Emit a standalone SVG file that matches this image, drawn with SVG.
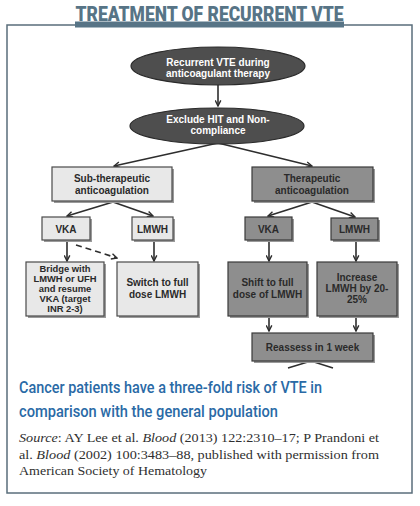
<svg xmlns="http://www.w3.org/2000/svg" width="420" height="506" viewBox="0 0 420 506">
<defs>
<style>
.t{font-family:"Liberation Sans",Arial,sans-serif;font-weight:bold;font-size:10px;text-anchor:middle;fill:#2a2a2a}
.s{font-size:9.4px}
.w{fill:#ffffff}
.ell{fill:#4e4e4e;stroke:#2a2a2a;stroke-width:1.2}
.lb{fill:#e8e8e8;stroke:#4a4a4a;stroke-width:1.2}
.db{fill:#8e8e8e;stroke:#3a3a3a;stroke-width:1.2}
.sh{fill:#9a9a9a}
.c{fill:none;stroke:#2e2e2e;stroke-width:1.6;marker-end:url(#ah)}
.src{font-family:"Liberation Serif","Times New Roman",serif;font-size:13.4px;fill:#2f2f2f}
.hd{font-family:Roboto,"Liberation Sans",sans-serif;font-weight:500;font-size:16.5px;fill:#2a6aa6}
</style>
<marker id="ah" viewBox="0 0 10 10" refX="9" refY="5" markerWidth="7" markerHeight="7" markerUnits="userSpaceOnUse" orient="auto">
<path d="M1,1 L9,5 L1,9" fill="none" stroke="#2e2e2e" stroke-width="2"/>
</marker>
</defs>
<rect x="0" y="0" width="420" height="506" fill="#ffffff"/>
<rect x="7" y="25" width="405" height="468" fill="#ffffff" stroke="#5a6e7b" stroke-width="1.5"/>
<rect x="75" y="21.5" width="269" height="6" fill="#577486"/>
<text x="209.5" y="20.5" font-family="Roboto,'Liberation Sans',sans-serif" font-weight="900" font-size="21" fill="#577486" text-anchor="middle" textLength="268" lengthAdjust="spacingAndGlyphs">TREATMENT OF RECURRENT VTE</text>

<g id="connectors">
<path class="c" d="M218,85 V106"/>
<path class="c" d="M218,143 L114,166"/>
<path class="c" d="M218,143 L312,166"/>
<path class="c" d="M113,202 L67,216"/>
<path class="c" d="M113,202 L153,216"/>
<path class="c" d="M312,202 L268,216"/>
<path class="c" d="M312,202 L355,217"/>
<path class="c" d="M67,241 V261"/>
<path class="c" d="M154,241 V261"/>
<path class="c" d="M76,245 L117,258" stroke-dasharray="6,4"/>
<path class="c" d="M269,241 V261"/>
<path class="c" d="M356,241 V261"/>
<path class="c" d="M269,317 V331"/>
<path class="c" d="M356,317 V331"/>
<path d="M288,368 L311,361 L333,368" fill="none" stroke="#2e2e2e" stroke-width="1.6"/>
</g>

<g id="n-recurrent">
<ellipse class="ell" cx="218" cy="66" rx="87" ry="19"/>
<text class="t w" x="218" y="65.5">Recurrent VTE during</text>
<text class="t w" x="218" y="76.5">anticoagulant therapy</text>
</g>
<g id="n-exclude">
<ellipse class="ell" cx="217" cy="126" rx="87" ry="18"/>
<text class="t w" x="218" y="122.5">Exclude HIT and Non-</text>
<text class="t w" x="218" y="133.5">compliance</text>
</g>

<g id="n-sub">
<rect class="sh" x="54" y="169" width="120" height="34"/>
<rect class="lb" x="52" y="167" width="120" height="34"/>
<text class="t" x="112" y="182">Sub-therapeutic</text>
<text class="t" x="112" y="194">anticoagulation</text>
</g>
<g id="n-ther">
<rect class="sh" x="254" y="169" width="121" height="34"/>
<rect class="db" x="252" y="167" width="121" height="34"/>
<text class="t" x="312" y="182">Therapeutic</text>
<text class="t" x="312" y="194">anticoagulation</text>
</g>

<g id="n-vka1">
<rect class="sh" x="44" y="219" width="48" height="23"/>
<rect class="lb" x="42" y="217" width="48" height="23"/>
<text class="t" x="66" y="232.5">VKA</text>
</g>
<g id="n-lmwh1">
<rect class="sh" x="134" y="219" width="41" height="23"/>
<rect class="lb" x="132" y="217" width="41" height="23"/>
<text class="t" x="152.5" y="232.5">LMWH</text>
</g>
<g id="n-vka2">
<rect class="sh" x="247" y="219" width="47" height="23"/>
<rect class="db" x="245" y="217" width="47" height="23"/>
<text class="t" x="268.5" y="232.5">VKA</text>
</g>
<g id="n-lmwh2">
<rect class="sh" x="333" y="220" width="47" height="22"/>
<rect class="db" x="331" y="218" width="47" height="22"/>
<text class="t" x="354.5" y="232.5">LMWH</text>
</g>

<g id="n-bridge">
<rect class="sh" x="28" y="264" width="78" height="54"/>
<rect class="lb" x="26" y="262" width="78" height="54"/>
<text class="t s" x="65" y="271.5">Bridge with</text>
<text class="t s" x="65" y="281.5">LMWH or UFH</text>
<text class="t s" x="65" y="291.5">and resume</text>
<text class="t s" x="65" y="301.5">VKA (target</text>
<text class="t s" x="65" y="311.5">INR 2-3)</text>
</g>
<g id="n-switch">
<rect class="sh" x="119" y="264" width="81" height="54"/>
<rect class="lb" x="117" y="262" width="81" height="54"/>
<text class="t" x="157.5" y="286">Switch to full</text>
<text class="t" x="157.5" y="297.5">dose LMWH</text>
</g>
<g id="n-shift">
<rect class="sh" x="230" y="264" width="79" height="54"/>
<rect class="db" x="228" y="262" width="79" height="54"/>
<text class="t" x="267.5" y="286">Shift to full</text>
<text class="t" x="267.5" y="297.5">dose of LMWH</text>
</g>
<g id="n-increase">
<rect class="sh" x="319" y="264" width="80" height="54"/>
<rect class="db" x="317" y="262" width="80" height="54"/>
<text class="t" x="357" y="281">Increase</text>
<text class="t" x="357" y="292">LMWH by 20-</text>
<text class="t" x="357" y="303">25%</text>
</g>
<g id="n-reassess">
<rect class="sh" x="254" y="335" width="121" height="28"/>
<rect class="db" x="252" y="333" width="121" height="28"/>
<text class="t" x="312.5" y="350.5">Reassess in 1 week</text>
</g>

<text class="hd" x="19" y="393" textLength="303" lengthAdjust="spacingAndGlyphs">Cancer patients have a three-fold risk of VTE in</text>
<text class="hd" x="19" y="417" textLength="259" lengthAdjust="spacingAndGlyphs">comparison with the general population</text>
<text class="src" x="19" y="442" textLength="360" lengthAdjust="spacingAndGlyphs"><tspan font-style="italic">Source</tspan>: AY Lee et al. <tspan font-style="italic">Blood</tspan> (2013) 122:2310–17; P Prandoni et</text>
<text class="src" x="19" y="459" textLength="360" lengthAdjust="spacingAndGlyphs">al. <tspan font-style="italic">Blood</tspan> (2002) 100:3483–88, published with permission from</text>
<text class="src" x="19" y="475" textLength="188" lengthAdjust="spacingAndGlyphs">American Society of Hematology</text>
</svg>
